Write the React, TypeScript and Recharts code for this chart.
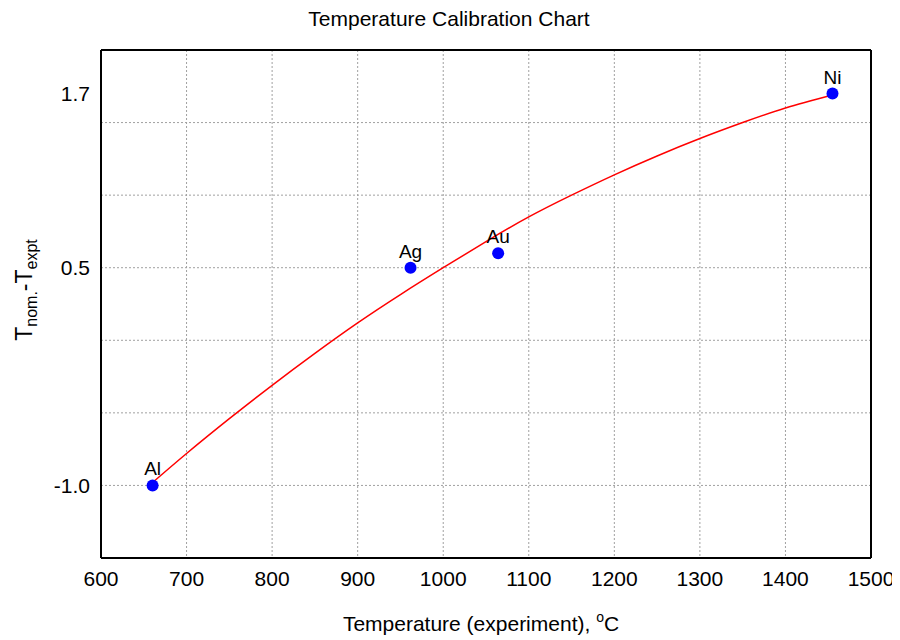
import React from 'react';
import { ComposedChart, Line, Scatter, XAxis, YAxis, CartesianGrid } from 'recharts';

// fitted calibration curve
const CURVE_T = [660.3, 700, 750, 800, 850, 900, 950, 1000, 1050, 1100, 1150, 1200, 1250, 1300, 1350, 1400, 1455];
const CURVE_DEV = [-0.98, -0.78, -0.54, -0.31, -0.09, 0.12, 0.315, 0.5, 0.68, 0.85, 1.0, 1.14, 1.27, 1.39, 1.5, 1.6, 1.69];

// measured fixed points
const POINT_NAMES = ['Al', 'Ag', 'Au', 'Ni'];
const POINT_T = [660.3, 961.8, 1064.2, 1455];
const POINT_DEV = [-1.0, 0.5, 0.6, 1.7];

const X_TICKS = [600, 700, 800, 900, 1000, 1100, 1200, 1300, 1400, 1500];
const Y_TICKS = [-1.0, 0.5, 1.7];
const GRID_X = [700, 800, 900, 1000, 1100, 1200, 1300, 1400];
const GRID_Y = [-1.0, -0.5, 0.0, 0.5, 1.0, 1.5];

const range = (from: number, to: number, step: number) => {
  const out: number[] = [];
  for (let v = from; v <= to + step / 2; v += step) out.push(Math.round(v * 1000) / 1000);
  return out;
};
const X_MINOR = range(600, 1500, 20);
const Y_MINOR = range(-1.5, 2.0, 0.1);

const FONT = '"Liberation Sans", Arial, sans-serif';

const curveData = CURVE_T.map((t, i) => ({ t, dev: CURVE_DEV[i] }));
const pointData = POINT_NAMES.map((name, i) => ({ name, t: POINT_T[i], dev: POINT_DEV[i] }));

const renderPoint = (props: any) => {
  const { cx, cy, payload } = props;
  return (
    <g>
      <circle cx={cx} cy={cy} r={6} fill="#0000ff" />
      <text x={cx} y={cy - 10} textAnchor="middle" fontSize={19} fontFamily={FONT} fill="#000">
        {payload.name}
      </text>
    </g>
  );
};

// frame with small inward ticks on every side
const minorAxis = { tick: false, tickSize: 4, tickLine: { stroke: '#000' }, axisLine: { stroke: '#000', strokeWidth: 2 } };

export default function App() {
  return (
    <div style={{ position: 'relative', width: 900, height: 640, margin: '-8px 0 0 -8px', background: '#fff' }}>
      <ComposedChart width={900} height={640} data={curveData} margin={{ top: 50, right: 29, left: 41, bottom: 52 }}>
        <CartesianGrid stroke="#a0a0a0" strokeDasharray="2 2" horizontalValues={GRID_Y} verticalValues={GRID_X} />
        <XAxis
          type="number"
          dataKey="t"
          domain={[600, 1500]}
          ticks={X_TICKS}
          allowDataOverflow
          height={30}
          tickLine={false}
          tickSize={6}
          tickMargin={7}
          axisLine={{ stroke: '#000', strokeWidth: 2 }}
          tick={{ fontSize: 21, fill: '#000', fontFamily: FONT }}
        />
        <XAxis xAxisId="bm" dataKey="t" orientation="bottom" mirror type="number" domain={[600, 1500]} ticks={X_MINOR} allowDataOverflow height={1} {...minorAxis} />
        <XAxis xAxisId="tm" dataKey="t" orientation="top" mirror type="number" domain={[600, 1500]} ticks={X_MINOR} allowDataOverflow height={1} {...minorAxis} />
        <YAxis
          type="number"
          dataKey="dev"
          domain={[-1.5, 2.0]}
          ticks={Y_TICKS}
          allowDataOverflow
          width={60}
          tickLine={false}
          tickSize={6}
          tickMargin={5}
          tickFormatter={(v: number) => v.toFixed(1)}
          axisLine={{ stroke: '#000', strokeWidth: 2 }}
          tick={{ fontSize: 21, fill: '#000', fontFamily: FONT }}
        />
        <YAxis yAxisId="lm" dataKey="dev" orientation="left" mirror type="number" domain={[-1.5, 2.0]} ticks={Y_MINOR} allowDataOverflow width={1} {...minorAxis} />
        <YAxis yAxisId="rm" dataKey="dev" orientation="right" mirror type="number" domain={[-1.5, 2.0]} ticks={Y_MINOR} allowDataOverflow width={1} {...minorAxis} />
        <Scatter data={pointData} dataKey="dev" shape={renderPoint} isAnimationActive={false} />
        <Line
          type="natural"
          dataKey="dev"
          stroke="#ff0000"
          strokeWidth={1.5}
          dot={false}
          activeDot={false}
          isAnimationActive={false}
        />
      </ComposedChart>
      <svg width={900} height={640} style={{ position: 'absolute', left: 0, top: 0, pointerEvents: 'none' }}>
        <text x={449} y={26} textAnchor="middle" fontSize={21} fontFamily={FONT} fill="#000">
          Temperature Calibration Chart
        </text>
        <text x={481} y={631} textAnchor="middle" fontSize={21} fontFamily={FONT} fill="#000">
          Temperature (experiment),{' '}
          <tspan fontSize={14} dy={-9}>o</tspan>
          <tspan dy={9}>C</tspan>
        </text>
        <text transform="translate(32,290) rotate(-90)" textAnchor="middle" fontSize={23} fontFamily={FONT} fill="#000">
          T<tspan fontSize={16} dy={5}>nom.</tspan>
          <tspan dy={-5}>-T</tspan>
          <tspan fontSize={16} dy={5}>expt</tspan>
        </text>
      </svg>
    </div>
  );
}
